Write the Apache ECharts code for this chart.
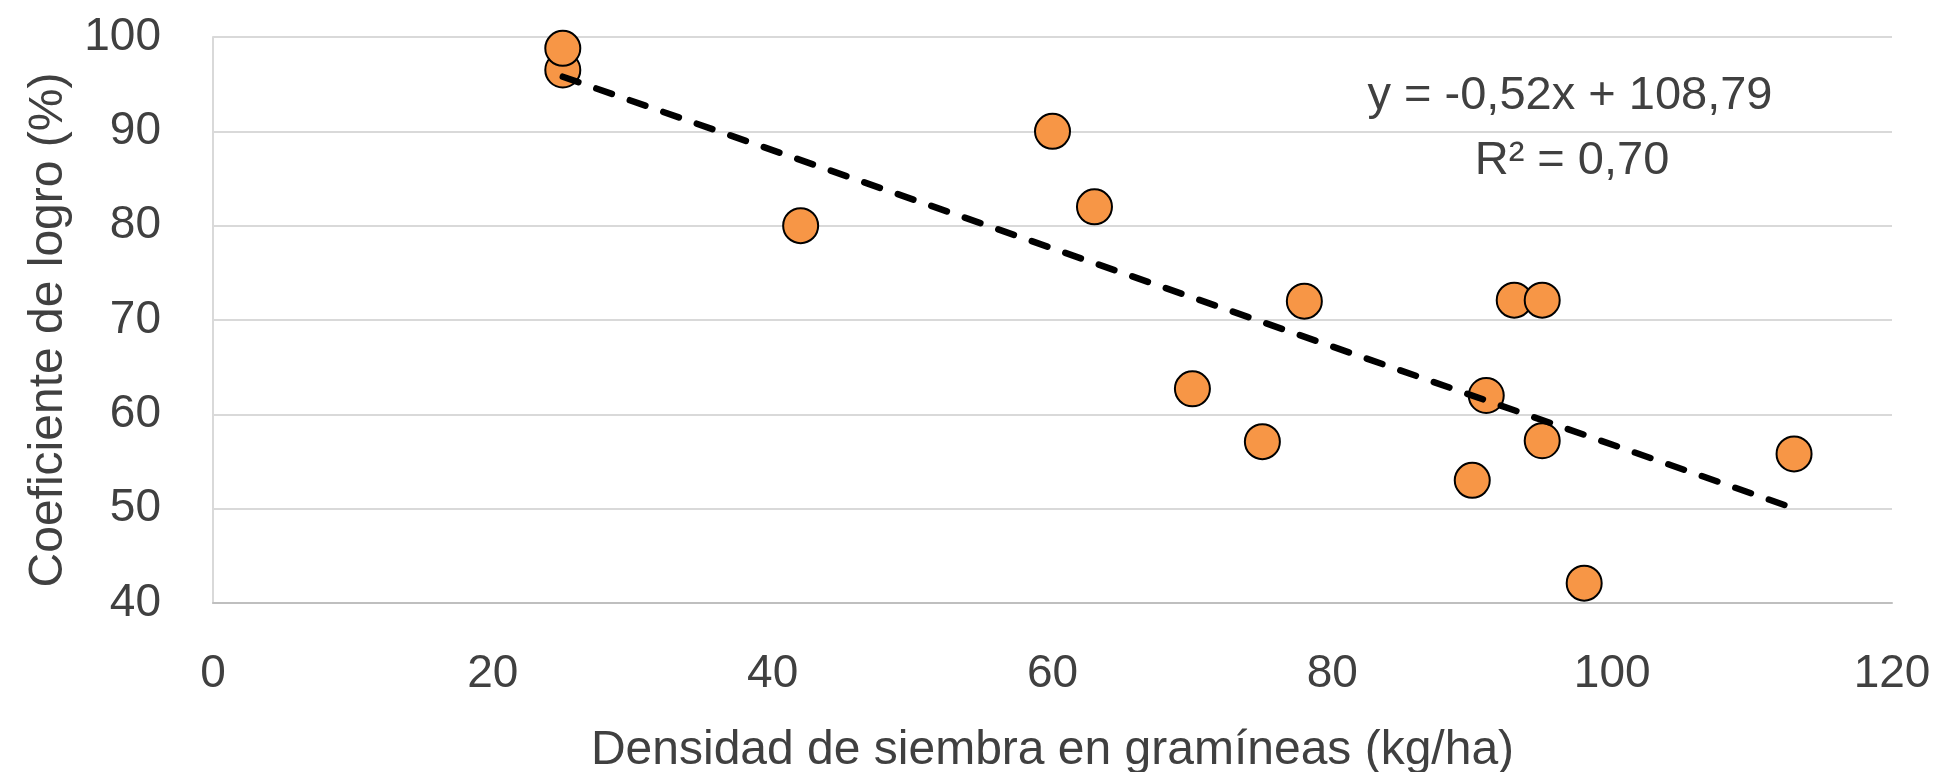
<!DOCTYPE html>
<html>
<head>
<meta charset="utf-8">
<title>Coeficiente de logro vs densidad de siembra</title>
<script src="https://cdn.jsdelivr.net/npm/echarts@6/dist/echarts.min.js"></script>
<style>
  html, body { margin: 0; padding: 0; background: #ffffff; }
  #chart { width: 1941px; height: 772px; }
</style>
</head>
<body>
<div id="chart"></div>
<script>
// Seeding density of grasses (kg/ha) and achievement coefficient (%)
const densidad = [25, 25, 42, 60, 63, 70, 75, 78, 90, 91, 93, 95, 95, 98, 113];
const logro    = [96.5, 98.8, 80, 90, 82, 62.7, 57.1, 72, 53, 62, 72.1, 72.1, 57.2, 42.1, 55.8];

// Linear trend as reported: y = -0,52x + 108,79 ; R² = 0,70
const pendiente = -0.52;
const intercepto = 108.79;
const r2 = 0.70;

const fmt = v => v.toFixed(2).replace('.', ',');
const ecuacion = 'y = ' + fmt(pendiente) + 'x + ' + fmt(intercepto);
const textoR2 = 'R² = ' + fmt(r2);

const xMin = Math.min(...densidad);
const xMax = Math.max(...densidad);
const tendencia = [
  [xMin, pendiente * xMin + intercepto],
  [xMax, pendiente * xMax + intercepto]
];

const puntos = densidad.map((x, i) => [x, logro[i]]);

const FONT = '"Liberation Sans", Arial, sans-serif';
const TXT = '#404040';

const chart = echarts.init(document.getElementById('chart'), null, { renderer: 'canvas' });
chart.setOption({
  animation: false,
  backgroundColor: '#ffffff',
  textStyle: { fontFamily: FONT },
  grid: {
    left: 213, right: 49, top: 37, bottom: 169,
    containLabel: false,
    outerBoundsMode: 'none'
  },
  xAxis: {
    type: 'value',
    min: 0, max: 120, interval: 20,
    name: 'Densidad de siembra en gramíneas (kg/ha)',
    nameLocation: 'middle',
    nameGap: 124,
    nameTextStyle: { color: TXT, fontSize: 48, fontFamily: FONT },
    axisLine: { show: true, onZero: false, lineStyle: { color: '#bfbfbf', width: 2 } },
    axisTick: { show: false },
    splitLine: { show: false },
    axisLabel: { color: TXT, fontSize: 46, fontFamily: FONT, margin: 48 }
  },
  yAxis: {
    type: 'value',
    min: 40, max: 100, interval: 10,
    name: 'Coeficiente de logro (%)',
    nameLocation: 'middle',
    nameGap: 140,
    nameRotate: 90,
    nameTextStyle: { color: TXT, fontSize: 48, fontFamily: FONT, padding: [0, 20, 0, 0] },
    axisLine: { show: true, lineStyle: { color: '#d9d9d9', width: 2 } },
    axisTick: { show: false },
    splitLine: { show: true, lineStyle: { color: '#d9d9d9', width: 2 } },
    axisLabel: { color: TXT, fontSize: 46, fontFamily: FONT, margin: 52 }
  },
  series: [
    {
      type: 'scatter',
      data: puntos,
      symbol: 'circle',
      symbolSize: 35,
      itemStyle: { color: '#F79646', borderColor: '#000000', borderWidth: 2, opacity: 1 },
      z: 2
    },
    {
      type: 'line',
      data: tendencia,
      showSymbol: false,
      symbol: 'none',
      lineStyle: { color: '#000000', width: 6.5, type: [16.5, 19], cap: 'round' },
      z: 3,
      silent: true
    }
  ],
  graphic: [
    {
      type: 'text',
      x: 1570, y: 96,
      style: {
        text: ecuacion,
        fill: TXT,
        font: '47px ' + FONT,
        align: 'center',
        verticalAlign: 'middle'
      }
    },
    {
      type: 'text',
      x: 1572, y: 161,
      style: {
        text: textoR2,
        fill: TXT,
        font: '47px ' + FONT,
        align: 'center',
        verticalAlign: 'middle'
      }
    }
  ]
});
</script>
</body>
</html>
